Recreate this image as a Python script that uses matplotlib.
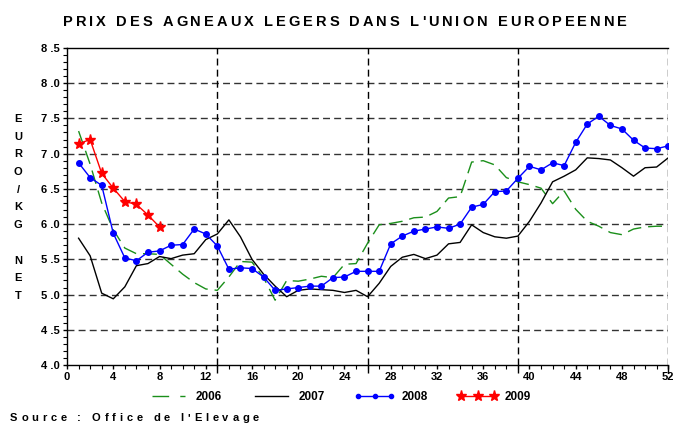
import matplotlib
matplotlib.use('Agg')
import matplotlib.pyplot as plt
from matplotlib.lines import Line2D
from matplotlib.font_manager import FontProperties
import numpy as np

plt.rcParams['font.family'] = ['Liberation Sans', 'DejaVu Sans']
plt.rcParams['lines.scale_dashes'] = False

weeks = np.arange(1, 53)
p2006 = [7.32, 6.85, 6.30, 5.92, 5.66, 5.58, 5.58, 5.57, 5.43, 5.29, 5.17, 5.08, 5.06,
         5.25, 5.47, 5.46, 5.24, 4.92, 5.20, 5.19, 5.22, 5.26, 5.24, 5.43, 5.44, 5.73,
         5.99, 6.01, 6.04, 6.09, 6.10, 6.18, 6.37, 6.39, 6.88, 6.90, 6.84, 6.66, 6.60,
         6.56, 6.51, 6.29, 6.47, 6.21, 6.04, 5.97, 5.88, 5.85, 5.93, 5.96, 5.97, 5.97]
p2007 = [5.80, 5.55, 5.02, 4.94, 5.11, 5.41, 5.44, 5.54, 5.51, 5.56, 5.58, 5.78, 5.86,
         6.06, 5.82, 5.50, 5.29, 5.12, 4.97, 5.06, 5.08, 5.07, 5.06, 5.03, 5.06, 4.97,
         5.16, 5.40, 5.53, 5.57, 5.51, 5.56, 5.72, 5.74, 5.99, 5.88, 5.82, 5.80, 5.83,
         6.04, 6.30, 6.60, 6.68, 6.77, 6.94, 6.93, 6.91, 6.80, 6.68, 6.80, 6.81, 6.94]
p2008 = [6.87, 6.66, 6.55, 5.87, 5.52, 5.48, 5.60, 5.62, 5.70, 5.71, 5.93, 5.86, 5.69,
         5.36, 5.38, 5.37, 5.25, 5.06, 5.08, 5.10, 5.12, 5.12, 5.24, 5.25, 5.33, 5.33,
         5.33, 5.72, 5.83, 5.90, 5.93, 5.96, 5.94, 6.00, 6.24, 6.28, 6.46, 6.47, 6.65,
         6.82, 6.77, 6.87, 6.83, 7.16, 7.42, 7.53, 7.40, 7.35, 7.19, 7.08, 7.07, 7.11]
weeks2009 = np.arange(1, 9)
p2009 = [7.14, 7.20, 6.72, 6.51, 6.32, 6.28, 6.13, 5.96]

ylabel = "EURO/KG NET"
title = "PRIX DES AGNEAUX LEGERS DANS L'UNION EUROPEENNE"
source = "Source : Office de l'Elevage"


def spaced_text(fig, x, y, s, extra, size):
    # matplotlib has no letter spacing, so place the letters one by one
    fp = FontProperties(family='Liberation Sans', weight='bold', size=size)
    r = fig.canvas.get_renderer()
    figw = fig.dpi * fig.get_figwidth()
    px = x * figw
    for ch in s:
        fig.text(px / figw, y, ch, fontproperties=fp, va='baseline')
        w, h, d = r.get_text_width_height_descent(ch, fp, ismath=False)
        px += w + extra


fig = plt.figure(figsize=(6.77, 4.24), dpi=100)
ax = fig.add_axes([0.099, 0.139, 0.888, 0.748])

ax.plot(weeks, p2006, color='#1a8f1a', lw=1, dashes=(10, 5), label='2006')
ax.plot(weeks, p2007, color='black', lw=1, label='2007')
ax.plot(weeks, p2008, color='blue', lw=1, marker='o', ms=4, label='2008')
ax.plot(weeks2009, p2009, color='red', lw=1, marker='*', ms=8, label='2009')

ax.set_xlim(0, 52)
ax.set_ylim(4.0, 8.5)

for v in np.arange(4.5, 8.01, 0.5):
    ax.axhline(v, color='#333333', lw=1, dashes=(5, 3), zorder=0)
for w in [13, 26, 39, 52]:
    ax.axvline(w, color='black', lw=1, dashes=(5, 3), zorder=0)

ax.spines['right'].set_visible(False)
for sp in ['left', 'bottom', 'top']:
    ax.spines[sp].set_linewidth(1)

yt = np.arange(4.0, 8.51, 0.5)
ax.set_yticks(yt)
ax.set_yticklabels(['%d .%d' % (int(v), int(round(v * 10)) % 10) for v in yt],
                   fontsize=8, fontweight='bold')
ax.set_yticks(np.arange(4.0, 8.51, 0.1), minor=True)
xt = np.arange(0, 53, 4)
ax.set_xticks(xt)
ax.set_xticklabels([str(v) for v in xt], fontsize=8, fontweight='bold')
ax.set_xticks(np.arange(0, 53, 1), minor=True)
ax.tick_params(axis='both', which='major', length=3, width=1, pad=2)
ax.tick_params(axis='both', which='minor', length=3, width=0.8)

sec = ax.secondary_xaxis('bottom')
sec.set_xticks([13, 26, 39, 52])
sec.set_xticklabels([])
sec.tick_params(length=6, width=1)
sec.spines['bottom'].set_visible(False)

# stacked y label
for i, ch in enumerate(ylabel):
    fig.text(18 / 677, 1 - (119 + i * 17.7) / 424, ch, fontsize=8, fontweight='bold',
             ha='center', va='center')

handles = [
    Line2D([], [], color='#1a8f1a', lw=1, dashes=(12, 8)),
    Line2D([], [], color='black', lw=1),
    Line2D([], [], color='blue', lw=1, marker='o', ms=3),
    Line2D([], [], color='red', lw=1, marker='*', ms=8),
]
fig.legend(handles, ['2006', '2007', '2008', '2009'], loc='center',
           bbox_to_anchor=(0.502, 1 - 397 / 424), ncol=4, frameon=False,
           numpoints=3, handlelength=3.4, handletextpad=0.6, columnspacing=2.5,
           prop={'family': 'Liberation Sans', 'weight': 'bold', 'size': 8.5})

spaced_text(fig, 63 / 677, 1 - 26 / 424, title, 3.0, 10.5)
spaced_text(fig, 10 / 677, 1 - 421 / 424, source, 3.8, 8)

fig.savefig('out.png', dpi=100)
